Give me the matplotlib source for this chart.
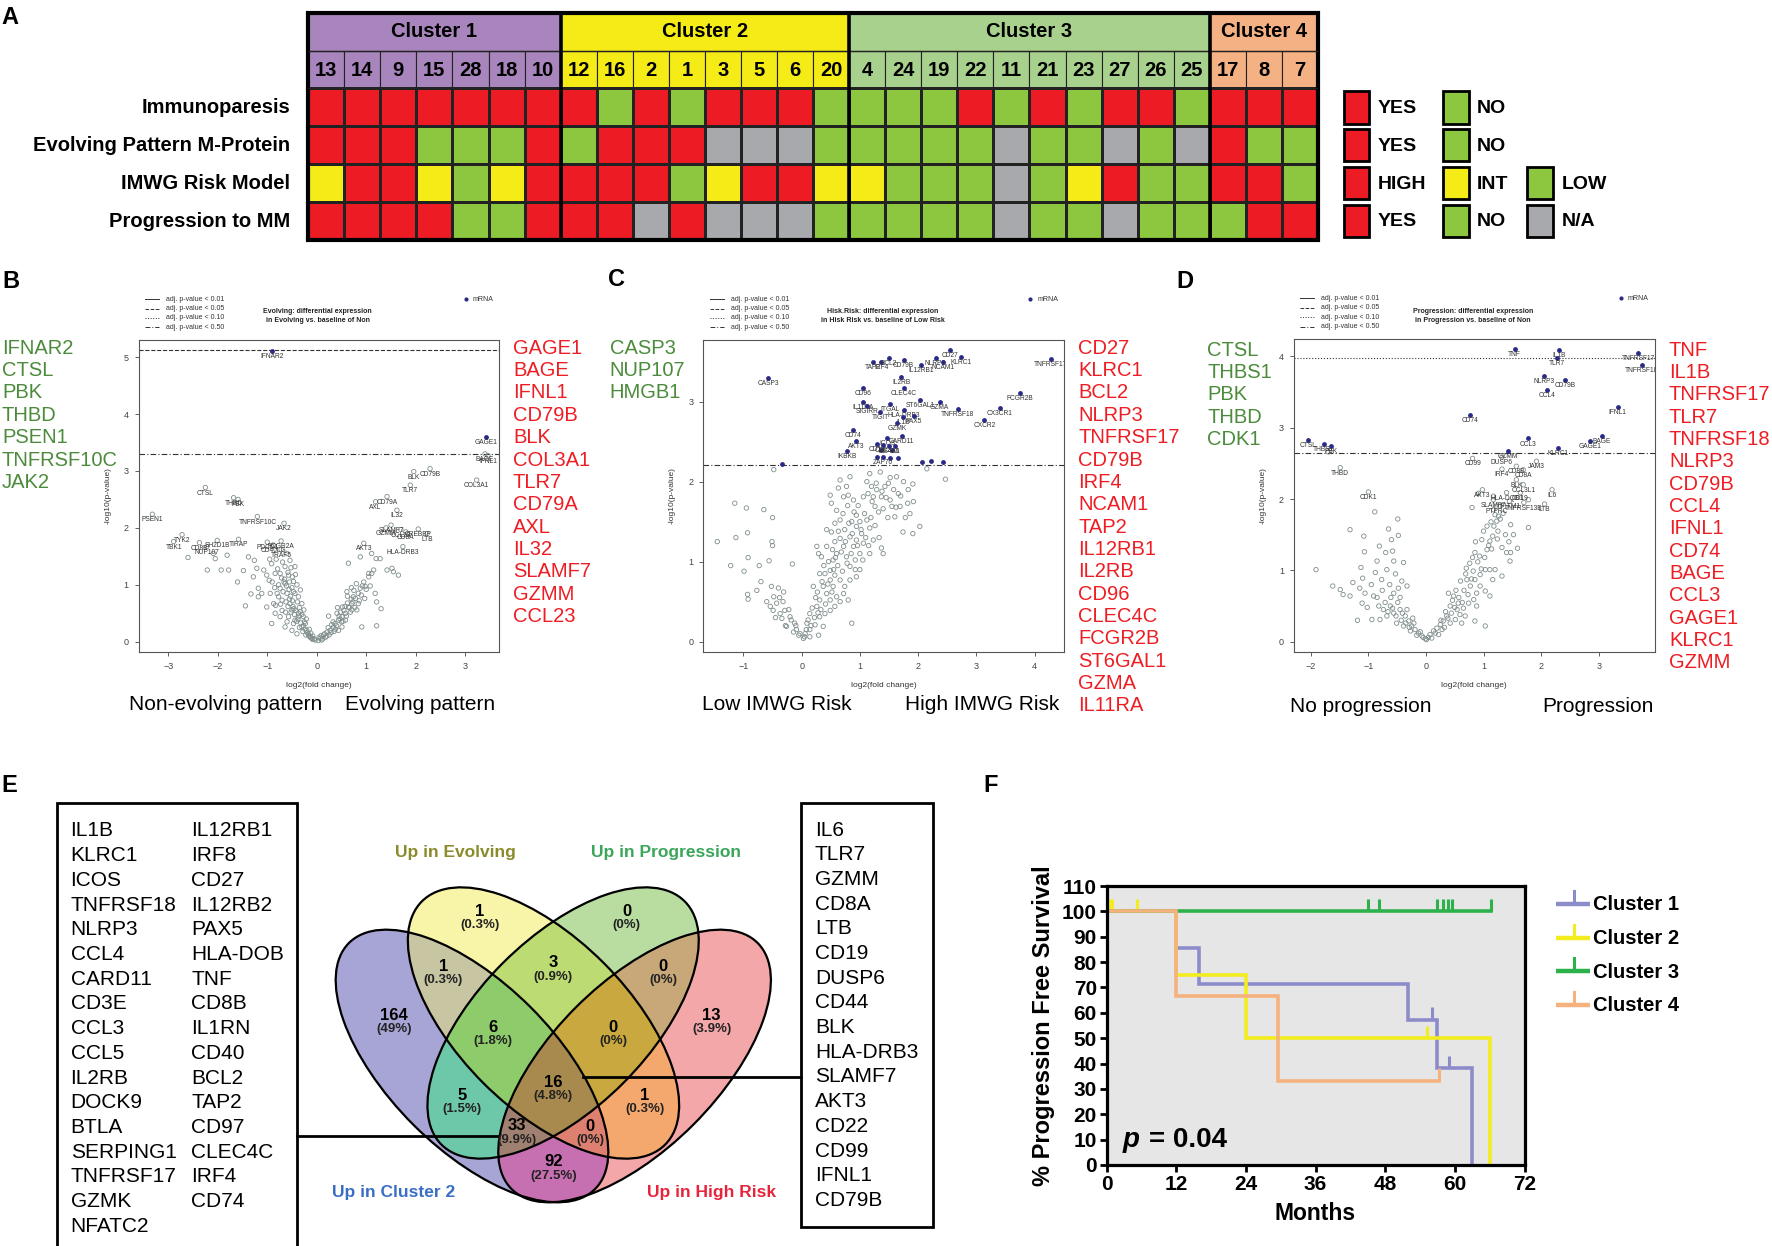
import numpy as np
import matplotlib
matplotlib.use("Agg")
import matplotlib.pyplot as plt
from matplotlib.patches import Rectangle, Ellipse
from matplotlib.colors import ListedColormap

plt.rcParams["font.family"] = ["Liberation Sans", "DejaVu Sans"]

# ---------------- A: clinical features per patient ----------------
cluster_names = ["Cluster 1", "Cluster 2", "Cluster 3", "Cluster 4"]
cluster_sizes = [7, 8, 10, 3]
patient_ids = [13, 14, 9, 15, 28, 18, 10,
               12, 16, 2, 1, 3, 5, 6, 20,
               4, 24, 19, 22, 11, 21, 23, 27, 26, 25,
               17, 8, 7]
feature_names = ["Immunoparesis", "Evolving Pattern M-Protein",
                 "IMWG Risk Model", "Progression to MM"]
# Y yes, N no, H high, I intermediate, L low, X n/a
immunoparesis = "YYYYYYY" + "YNYNYYYN" + "NNNYNYNYYN" + "YYY"
evolving = "YYYNNNY" + "NYYYXXXN" + "NNNNXNNXNX" + "YNN"
imwg_risk = "IHHILIH" + "HHHLIHHI" + "ILLLXLIHLL" + "HHL"
progression = "YYYYNNY" + "YYXYXXXN" + "NNNNXNNXNN" + "NYY"
legend_rows = [[("Y", "YES"), ("N", "NO")],
               [("Y", "YES"), ("N", "NO")],
               [("H", "HIGH"), ("I", "INT"), ("L", "LOW")],
               [("Y", "YES"), ("N", "NO"), ("X", "N/A")]]

# ---------------- B: Evolving vs Non ----------------
b_grey = [(-2.60, 1.48), (-2.21, 1.26), (-1.93, 1.26), (-1.78, 1.26), (-1.81, 1.52), (-2.05, 1.46),
          (-2.09, 1.55), (-1.48, 1.25), (-1.60, 1.05), (-1.38, 1.49), (-1.26, 1.43), (-1.21, 1.29),
          (-1.44, 0.63), (-1.33, 0.84), (-1.18, 0.94), (-1.07, 1.26), (-1.01, 1.17), (-0.96, 1.08),
          (-1.11, 0.85), (-0.94, 0.85), (-0.91, 0.32), (-0.84, 0.50), (-0.83, 0.64), (-0.77, 0.79),
          (-0.74, 0.94), (-0.74, 1.20), (-0.64, 1.32), (-0.57, 1.17), (-0.49, 1.14), (-0.44, 1.32),
          (-0.64, 1.02), (-0.70, 0.73), (-0.60, 0.85), (-0.54, 0.67), (-0.50, 0.56), (-0.44, 0.85),
          (-0.37, 0.79), (-0.33, 0.91), (-0.30, 0.67), (-0.57, 0.44), (-0.64, 0.26), (-0.50, 0.20),
          (-0.44, 0.38), (-0.37, 0.50), (-0.27, 0.44), (-0.23, 0.32), (-0.20, 0.20), (-0.17, 0.14),
          (-0.13, 0.09), (-0.10, 0.06), (-0.03, 0.03), (-0.30, 0.26), (-0.40, 0.14), (-0.47, 0.32),
          (-0.74, 0.44), (-0.87, 0.67), (-1.01, 0.61), (-1.18, 0.79), (-1.28, 1.14), (-0.60, 1.55),
          (-0.54, 1.43), (-0.91, 1.37), (-0.84, 1.20), (-0.77, 1.00), (-0.55, 0.75), (-0.48, 0.62),
          (-0.42, 0.55), (-0.35, 0.60), (-0.30, 0.48), (-0.25, 0.35), (-0.38, 0.40), (-0.45, 0.48),
          (-0.52, 0.52), (-0.58, 0.62), (-0.62, 0.70), (-0.68, 0.88), (-0.50, 0.95), (-0.40, 1.00),
          (-0.35, 0.25), (-0.28, 0.18), (-0.22, 0.12), (-0.15, 0.22), (-0.12, 0.15), (-0.08, 0.10),
          (-0.60, 0.35), (-0.70, 0.55), (-0.65, 1.10), (-0.55, 1.05), (-0.85, 0.95), (-0.90, 1.05),
          (-0.05, 0.05), (-0.08, 0.04), (-0.12, 0.07), (-0.16, 0.10), (-0.19, 0.16), (-0.24, 0.22),
          (-0.27, 0.28), (-0.32, 0.33), (-0.36, 0.45), (-0.41, 0.36), (-0.46, 0.58), (-0.49, 0.72),
          (-0.53, 0.80), (-0.56, 0.92), (-0.61, 0.98), (-0.66, 1.05), (-0.71, 1.12), (-0.79, 1.28),
          (-0.47, 0.88), (-0.39, 0.70), (-0.33, 0.53), (-0.26, 0.56), (-0.21, 0.40), (-0.58, 1.22),
          (-0.69, 1.40), (-0.52, 1.30), (-0.43, 1.18), (-0.82, 1.45), (-0.95, 1.45), (-0.47, 1.06),
          (-0.63, 0.52), (-0.73, 0.66), (-0.80, 0.85),
          (0.07, 0.06), (0.14, 0.12), (0.21, 0.17), (0.27, 0.20), (0.34, 0.26), (0.37, 0.32),
          (0.44, 0.38), (0.51, 0.44), (0.58, 0.50), (0.64, 0.61), (0.71, 0.67), (0.78, 0.76),
          (0.84, 0.85), (0.88, 0.94), (0.98, 0.97), (1.05, 1.14), (1.11, 1.20), (1.15, 1.26),
          (1.18, 0.85), (1.21, 0.70), (1.30, 0.58), (1.21, 0.28), (0.91, 0.26), (0.84, 0.67),
          (0.71, 0.56), (0.61, 0.88), (0.58, 0.38), (0.51, 0.26), (0.44, 0.20), (0.64, 1.38),
          (0.88, 1.49), (1.05, 1.20), (1.11, 1.55), (1.20, 1.46), (1.28, 1.46), (1.42, 1.26),
          (1.52, 1.29), (1.55, 1.23), (1.65, 1.17), (0.24, 0.45), (0.41, 0.50), (0.52, 0.61),
          (0.74, 0.79), (0.81, 0.56), (0.97, 0.76), (0.30, 0.30), (0.45, 0.45), (0.55, 0.55),
          (0.62, 0.68), (0.70, 0.75), (0.50, 0.35), (0.38, 0.22), (0.25, 0.12), (0.18, 0.08),
          (0.10, 0.03), (0.66, 0.60), (0.75, 0.90), (0.80, 1.02), (0.92, 0.98),
          (0.03, 0.02), (0.05, 0.08), (0.09, 0.11), (0.12, 0.05), (0.16, 0.14), (0.20, 0.10),
          (0.23, 0.25), (0.29, 0.16), (0.33, 0.35), (0.35, 0.18), (0.40, 0.28), (0.47, 0.40),
          (0.53, 0.36), (0.57, 0.62), (0.60, 0.45), (0.68, 0.52), (0.73, 0.70), (0.77, 0.60),
          (0.86, 0.72), (0.90, 0.82), (0.95, 1.05), (1.00, 0.92), (1.08, 0.98), (0.70, 0.95),
          (0.62, 0.80), (0.48, 0.52), (0.42, 0.60)]
b_labelled = [("IFNAR2", -0.91, 5.11, 1), ("GAGE1", 3.42, 3.59, 1),
              ("BAGE", 3.40, 3.30, 0), ("IFNL1", 3.46, 3.27, 0), ("COL3A1", 3.23, 2.84, 0),
              ("BLK", 1.96, 2.99, 0), ("CD79B", 2.29, 3.04, 0), ("TLR7", 1.89, 2.75, 0),
              ("CD79A", 1.42, 2.55, 0), ("AXL", 1.19, 2.46, 0), ("IL32", 1.62, 2.31, 0),
              ("SLAMF7", 1.50, 2.05, 0), ("GZMM", 1.40, 2.00, 0), ("CCL23", 1.70, 1.97, 0),
              ("CREBBP", 2.05, 1.98, 0), ("CD8A", 1.80, 1.93, 0), ("LTB", 2.23, 1.90, 0),
              ("AKT3", 0.95, 1.73, 0), ("HLA-DRB3", 1.74, 1.67, 0),
              ("PSEN1", -3.32, 2.24, 0), ("CTSL", -2.25, 2.71, 0), ("THBD", -1.68, 2.53, 0),
              ("PBK", -1.59, 2.50, 0), ("TNFRSF10C", -1.20, 2.20, 0), ("JAK2", -0.66, 2.08, 0),
              ("TYK2", -2.72, 1.88, 0), ("TBK1", -2.89, 1.76, 0), ("CD8B", -2.37, 1.74, 0),
              ("SH2D1B", -2.01, 1.78, 0), ("NUP107", -2.22, 1.67, 0), ("TIRAP", -1.58, 1.80, 0),
              ("PDCD1", -1.00, 1.75, 0), ("FCGR2A", -0.72, 1.77, 0), ("CD40LG", -0.88, 1.70, 0),
              ("TRAF5", -0.72, 1.62, 0)]
b_cutoffs = [(5.13, "--"), (3.30, (0, (5, 2, 1, 2)))]
b_down_genes = ["IFNAR2", "CTSL", "PBK", "THBD", "PSEN1", "TNFRSF10C", "JAK2"]
b_up_genes = ["GAGE1", "BAGE", "IFNL1", "CD79B", "BLK", "COL3A1", "TLR7", "CD79A",
              "AXL", "IL32", "SLAMF7", "GZMM", "CCL23"]

# ---------------- C: High vs Low IMWG risk ----------------
c_grey = [(-0.48, 2.15), (2.15, 2.16), (2.47, 2.03), (1.91, 1.97), (1.92, 1.75), (1.82, 1.73),
          (1.86, 1.60), (2.03, 1.44), (1.91, 1.35), (1.74, 1.37), (-1.15, 1.73), (-0.95, 1.67),
          (-0.65, 1.65), (-0.50, 1.55), (-1.45, 1.25), (-1.13, 1.30), (-0.93, 1.36), (-0.51, 1.25),
          (-0.50, 1.20), (-1.22, 0.95), (-0.99, 0.88), (-0.73, 0.95), (-0.56, 1.01), (-0.16, 0.97),
          (-0.92, 1.05), (-0.93, 0.59), (-0.92, 0.53), (-0.77, 0.64), (-0.48, 0.56), (-0.54, 0.44),
          (-0.43, 0.48), (-0.32, 0.50), (-0.52, 0.69), (-0.40, 0.67), (-0.29, 0.39), (-0.20, 0.31),
          (-0.12, 0.23), (-0.03, 0.10), (0.03, 0.04), (-0.09, 0.15), (-0.18, 0.27), (-0.37, 0.35),
          (-0.49, 0.39), (-0.26, 0.19), (-0.34, 0.29), (-0.05, 0.08), (-0.10, 0.20), (-0.14, 0.12),
          (-0.22, 0.40), (-0.28, 0.20), (-0.31, 0.62), (-0.45, 0.30), (-0.60, 0.50), (-0.70, 0.75),
          (-0.38, 0.55),
          (0.26, 1.19), (0.29, 1.10), (0.31, 0.85), (0.43, 1.40), (0.49, 1.83), (0.51, 1.73),
          (0.60, 1.64), (0.63, 1.92), (0.66, 2.02), (0.72, 1.81), (0.77, 1.94), (0.80, 1.83),
          (0.83, 2.06), (0.89, 1.77), (0.86, 1.50), (0.94, 1.58), (1.00, 1.50), (1.06, 1.81),
          (1.12, 2.00), (1.17, 2.10), (1.20, 1.94), (1.23, 1.81), (1.26, 1.69), (1.29, 1.90),
          (1.35, 2.12), (1.37, 1.81), (1.40, 1.66), (1.43, 1.94), (1.49, 1.98), (1.52, 1.77),
          (1.55, 1.69), (1.60, 1.56), (1.63, 2.06), (1.66, 1.85), (1.69, 1.69), (1.75, 2.00),
          (1.37, 1.17), (1.40, 1.10), (1.17, 1.42), (1.23, 1.27), (1.06, 1.23), (0.94, 1.27),
          (1.00, 1.10), (0.92, 1.02), (0.83, 0.94), (0.77, 1.06), (0.72, 1.19), (0.66, 1.29),
          (0.57, 1.25), (0.60, 1.10), (0.54, 1.02), (0.49, 0.89), (0.57, 0.83), (0.66, 0.77),
          (0.74, 0.69), (0.83, 0.77), (0.94, 0.81), (1.00, 0.90), (0.86, 0.23), (0.37, 0.69),
          (0.43, 0.60), (0.49, 0.52), (0.54, 0.69), (0.60, 0.56), (0.31, 0.52), (0.26, 0.44),
          (0.20, 0.69), (0.14, 0.35), (0.09, 0.23), (0.14, 0.15), (0.23, 0.21), (0.31, 0.31),
          (0.40, 0.35), (0.49, 0.39), (0.57, 0.44), (0.66, 0.50), (0.37, 0.19), (0.29, 0.08),
          (0.14, 0.06), (0.06, 0.10), (0.72, 0.60), (0.80, 0.52), (0.34, 1.06), (0.43, 1.19),
          (0.51, 1.37), (0.57, 1.48), (0.66, 1.52), (0.74, 1.40), (0.83, 1.31), (0.94, 1.44),
          (1.03, 1.35), (1.12, 1.52), (0.89, 1.19), (1.17, 1.10), (0.49, 0.77), (0.40, 0.85),
          (0.05, 0.06), (0.08, 0.15), (0.11, 0.27), (0.16, 0.20), (0.18, 0.42), (0.22, 0.30),
          (0.24, 0.55), (0.27, 0.62), (0.28, 0.36), (0.33, 0.40), (0.35, 0.75), (0.38, 0.95),
          (0.41, 0.47), (0.45, 0.72), (0.46, 1.00), (0.52, 0.62), (0.53, 1.15), (0.55, 0.90),
          (0.58, 1.05), (0.62, 0.95), (0.63, 1.38), (0.68, 1.12), (0.70, 0.88), (0.71, 1.60),
          (0.75, 1.25), (0.78, 0.98), (0.79, 1.70), (0.81, 1.48), (0.85, 1.10), (0.87, 1.35),
          (0.90, 1.62), (0.92, 0.90), (0.96, 1.20), (0.97, 1.70), (1.02, 1.40), (1.05, 1.02),
          (1.08, 1.60), (1.10, 1.30), (1.14, 1.85), (1.15, 1.20), (1.19, 1.55), (1.21, 1.75),
          (1.26, 1.45), (1.28, 1.98), (1.32, 1.62), (1.33, 1.30), (1.38, 1.88), (1.45, 1.80),
          (1.48, 1.55), (1.52, 2.05), (1.58, 1.90), (1.62, 1.68), (1.70, 1.82), (1.78, 1.55),
          (1.83, 1.90)]
c_navy = [(-0.33, 2.22), (1.36, 2.40), (1.55, 2.39), (1.30, 2.31), (1.52, 2.30), (1.65, 2.30),
          (2.06, 2.25), (2.23, 2.26), (2.43, 2.25)]
c_labelled = [("CASP3", -0.57, 3.29, 1), ("TAP2", 1.23, 3.49, 1), ("IRF4", 1.37, 3.50, 1),
              ("BCL2", 1.50, 3.55, 1), ("CD79B", 1.75, 3.52, 1), ("NLRP3", 2.30, 3.54, 1),
              ("NCAM1", 2.42, 3.50, 1), ("IL12RB1", 2.05, 3.46, 1), ("CD27", 2.55, 3.65, 1),
              ("KLRC1", 2.74, 3.56, 1), ("TNFRSF17", 4.28, 3.53, 1), ("IL2RB", 1.71, 3.31, 1),
              ("CD96", 1.06, 3.17, 1), ("CLEC4C", 1.75, 3.17, 1), ("FCGR2B", 3.75, 3.11, 1),
              ("IL11RA", 1.06, 2.99, 1), ("SIGIRR", 1.13, 2.94, 1), ("ITGAL", 1.52, 2.97, 1),
              ("ST6GAL1", 2.04, 3.02, 1), ("GZMA", 2.37, 3.00, 1), ("TNFRSF18", 2.68, 2.91, 1),
              ("CX3CR1", 3.40, 2.92, 1), ("HLA-DRB3", 1.76, 2.90, 1), ("PAX5", 1.93, 2.82, 1),
              ("TIGIT", 1.35, 2.87, 1), ("IL1B", 1.74, 2.81, 1), ("CXCR2", 3.14, 2.77, 1),
              ("GZMK", 1.64, 2.73, 1), ("CD74", 0.89, 2.65, 1), ("AKT3", 0.94, 2.51, 1),
              ("CARD11", 1.72, 2.57, 1), ("ICOS", 1.47, 2.54, 1), ("CD19", 1.30, 2.47, 1),
              ("CD22", 1.40, 2.46, 1), ("MS4A1", 1.50, 2.44, 1), ("IL6", 1.60, 2.45, 1),
              ("IKBKB", 0.78, 2.38, 1), ("ZAP70", 1.39, 2.31, 1)]
c_cutoffs = [(2.205, (0, (5, 2, 1, 2)))]
c_down_genes = ["CASP3", "NUP107", "HMGB1"]
c_up_genes = ["CD27", "KLRC1", "BCL2", "NLRP3", "TNFRSF17", "CD79B", "IRF4", "NCAM1", "TAP2",
              "IL12RB1", "IL2RB", "CD96", "CLEC4C", "FCGR2B", "ST6GAL1", "GZMA", "IL11RA"]

# ---------------- D: Progression vs Non ----------------
d_grey = [(-1.70, 2.66), (0.91, 2.08), (0.80, 1.88), (1.17, 2.04), (1.78, 1.99), (1.29, 1.90),
          (1.17, 1.85), (1.26, 1.76), (1.23, 1.69), (1.47, 1.64), (1.78, 1.60), (1.18, 1.62),
          (1.16, 1.48), (1.11, 1.41), (1.24, 1.44), (1.32, 1.32), (1.40, 1.25), (1.47, 1.25),
          (1.59, 1.31), (1.46, 1.13), (1.14, 1.30), (0.97, 1.43), (1.06, 1.29), (0.85, 1.25),
          (0.81, 1.18), (1.03, 1.01), (1.11, 1.01), (1.20, 1.01), (1.32, 0.92), (1.16, 0.87),
          (0.94, 0.94), (0.85, 0.87), (0.70, 1.03), (0.71, 0.87), (0.77, 0.78), (0.88, 0.68),
          (0.83, 0.59), (0.94, 0.78), (1.03, 0.71), (1.11, 0.64), (0.88, 0.50), (0.74, 0.54),
          (0.65, 0.47), (0.56, 0.54), (0.48, 0.64), (0.42, 0.50), (0.39, 0.68), (0.54, 0.45),
          (0.59, 0.38), (0.68, 0.36), (0.85, 0.29), (1.03, 0.22), (0.36, 0.36), (0.30, 0.29),
          (0.25, 0.24), (0.19, 0.19), (0.13, 0.15), (0.07, 0.10), (0.01, 0.03), (0.28, 0.17),
          (0.42, 0.26), (0.51, 0.31), (0.62, 0.26),
          (0.04, 0.06), (0.10, 0.05), (0.16, 0.12), (0.22, 0.10), (0.26, 0.30), (0.32, 0.20),
          (0.34, 0.42), (0.38, 0.33), (0.44, 0.40), (0.46, 0.58), (0.50, 0.48), (0.52, 0.72),
          (0.57, 0.62), (0.60, 0.85), (0.63, 0.55), (0.66, 0.72), (0.69, 0.95), (0.73, 0.66),
          (0.76, 1.10), (0.79, 0.88), (0.82, 0.99), (0.86, 1.40), (0.90, 1.12), (0.93, 1.20),
          (0.96, 1.02), (1.00, 1.55), (1.02, 1.18), (1.06, 1.62), (1.09, 1.35), (1.13, 1.68),
          (1.20, 1.78), (1.25, 1.55), (1.29, 1.72), (1.34, 1.80), (1.38, 1.50), (1.44, 1.40),
          (1.52, 1.50),
          (-1.91, 1.01), (-1.62, 0.78), (-1.49, 0.73), (-1.44, 0.66), (-1.32, 0.64), (-1.19, 0.30),
          (-1.27, 0.83), (-1.32, 1.57), (-1.13, 1.04), (-1.10, 0.89), (-1.07, 1.26), (-1.08, 1.48),
          (-0.81, 1.34), (-0.89, 1.82), (-0.65, 1.58), (-0.60, 1.43), (-0.49, 1.72), (-0.48, 1.49),
          (-0.58, 1.27), (-0.56, 1.13), (-0.85, 1.13), (-0.88, 0.97), (-0.77, 0.87), (-0.68, 1.01),
          (-0.39, 1.11), (-0.33, 0.78), (-0.48, 0.75), (-0.56, 0.68), (-0.45, 0.62), (-0.91, 0.64),
          (-1.06, 0.68), (-1.11, 0.54), (-0.94, 0.31), (-0.82, 0.50), (-0.74, 0.45), (-0.62, 0.50),
          (-0.56, 0.40), (-0.45, 0.45), (-0.36, 0.36), (-0.30, 0.29), (-0.25, 0.22), (-0.19, 0.17),
          (-0.13, 0.12), (-0.07, 0.08), (-0.01, 0.04), (-0.68, 0.36), (-0.80, 0.31), (-0.51, 0.26),
          (-0.39, 0.22), (-0.27, 0.15), (-0.05, 0.06), (-0.10, 0.14), (-0.16, 0.09), (-0.21, 0.26),
          (-0.23, 0.33), (-0.29, 0.20), (-0.33, 0.45), (-0.35, 0.26), (-0.41, 0.40), (-0.43, 0.30),
          (-0.49, 0.55), (-0.52, 0.36), (-0.58, 0.47), (-0.61, 0.62), (-0.66, 0.42), (-0.71, 0.55),
          (-0.76, 0.72), (-0.85, 0.62), (-0.95, 0.80), (-1.02, 0.48), (-1.15, 0.75), (-0.70, 1.25),
          (-0.53, 0.95), (-0.42, 0.85), (-0.63, 0.80)]
d_navy = []
d_labelled = [("TNF", 1.54, 4.10, 1), ("IL1B", 2.31, 4.09, 1), ("TLR7", 2.28, 3.98, 1),
              ("TNFRSF17", 3.69, 4.05, 1), ("TNFRSF18", 3.75, 3.88, 1), ("NLRP3", 2.05, 3.73, 1),
              ("CD79B", 2.42, 3.67, 1), ("CCL4", 2.10, 3.53, 1), ("IFNL1", 3.33, 3.29, 1),
              ("CD74", 0.77, 3.18, 1), ("BAGE", 3.06, 2.89, 1), ("GAGE1", 2.85, 2.81, 1),
              ("CCL3", 1.77, 2.85, 1), ("KLRC1", 2.30, 2.71, 1), ("GZMM", 1.42, 2.68, 1),
              ("CTSL", -2.05, 2.83, 1), ("THBS1", -1.78, 2.77, 1), ("PBK", -1.65, 2.74, 1),
              ("THBD", -1.49, 2.44, 0), ("CDK1", -1.00, 2.10, 0), ("CD99", 0.81, 2.57, 0),
              ("DUSP6", 1.32, 2.59, 0), ("IRF4", 1.32, 2.42, 0), ("CD8B", 1.57, 2.46, 0),
              ("JAM3", 1.92, 2.53, 0), ("CD8A", 1.69, 2.41, 0), ("BLK", 1.57, 2.27, 0),
              ("CCL3L1", 1.69, 2.20, 0), ("IL6", 2.19, 2.13, 0), ("AKT3", 0.98, 2.13, 0),
              ("HLA-DQB1", 1.40, 2.09, 0), ("CD19", 1.64, 2.09, 0), ("SLAMF7", 1.17, 1.99, 0),
              ("PTPRC", 1.22, 1.90, 0), ("IFITM1", 1.45, 1.97, 0), ("TNFRSF13B", 1.70, 1.95, 0),
              ("LTB", 2.06, 1.93, 0)]
d_cutoffs = [(3.977, ":"), (2.644, (0, (5, 2, 1, 2)))]
d_down_genes = ["CTSL", "THBS1", "PBK", "THBD", "CDK1"]
d_up_genes = ["TNF", "IL1B", "TNFRSF17", "TLR7", "TNFRSF18", "NLRP3", "CD79B", "CCL4",
              "IFNL1", "CD74", "BAGE", "CCL3", "GAGE1", "KLRC1", "GZMM"]

# ---------------- E: Venn of up-regulated genes ----------------
venn_counts = [164, 1, 0, 13, 1, 3, 0, 6, 0, 5, 16, 1, 33, 0, 92]
venn_pcts = ["49%", "0.3%", "0%", "3.9%", "0.3%", "0.9%", "0%", "1.8%", "0%", "1.5%",
             "4.8%", "0.3%", "9.9%", "0%", "27.5%"]
venn_sets = ["Up in Cluster 2", "Up in Evolving", "Up in Progression", "Up in High Risk"]
e_left_col1 = ["IL1B", "KLRC1", "ICOS", "TNFRSF18", "NLRP3", "CCL4", "CARD11", "CD3E", "CCL3",
               "CCL5", "IL2RB", "DOCK9", "BTLA", "SERPING1", "TNFRSF17", "GZMK", "NFATC2"]
e_left_col2 = ["IL12RB1", "IRF8", "CD27", "IL12RB2", "PAX5", "HLA-DOB", "TNF", "CD8B", "IL1RN",
               "CD40", "BCL2", "TAP2", "CD97", "CLEC4C", "IRF4", "CD74"]
e_right = ["IL6", "TLR7", "GZMM", "CD8A", "LTB", "CD19", "DUSP6", "CD44", "BLK", "HLA-DRB3",
           "SLAMF7", "AKT3", "CD22", "CD99", "IFNL1", "CD79B"]

# ---------------- F: Kaplan-Meier PFS ----------------
km_names = ["Cluster 1", "Cluster 2", "Cluster 3", "Cluster 4"]
km_times = [[0, 12, 16, 52, 57, 63], [0, 12, 24, 66], [0, 66.2], [0, 12, 29.5, 57.3]]
km_surv = [[100, 85.7, 71.4, 57.1, 38.1, 0], [100, 75, 50, 0], [100, 100], [100, 66.7, 33.3, 33.3]]
km_cens_t = [[56, 59], [0.5, 1.0, 5.3, 55.2], [45, 47, 57, 57.9, 58.8, 59.5, 66.2], [57.3]]
km_cens_s = [[57.1, 38.1], [100, 100, 100, 50], [100] * 7, [33.3]]

# ---------------- colours ----------------
RED, GREEN, YELLOW, GREY = "#ED1C24", "#8DC63F", "#F5EB16", "#A7A9AC"
cluster_cols = ["#A985BD", "#F5EB16", "#A9D18E", "#F4B183"]
code_col = {"Y": RED, "H": RED, "I": YELLOW, "N": GREEN, "L": GREEN, "X": GREY}
code_idx = {"Y": 0, "H": 0, "I": 1, "N": 2, "L": 2, "X": 3}
NAVY, CIRC = "#2A2A86", "#7F8D8C"
GTXT, RTXT = "#4B8B3B", "#EE1D23"
km_cols = ["#8C8CCB", "#F3EC1E", "#2DB14B", "#F6B27E"]
# Venn region colours keyed by membership (Cluster 2, Evolving, Progression, High Risk)
venn_region_cols = {(1, 0, 0, 0): (167, 165, 213), (0, 1, 0, 0): (248, 244, 168),
                    (0, 0, 1, 0): (185, 221, 160), (0, 0, 0, 1): (243, 167, 169),
                    (1, 1, 0, 0): (200, 197, 163), (0, 1, 1, 0): (188, 219, 114),
                    (0, 0, 1, 1): (200, 168, 120), (1, 0, 1, 0): (109, 200, 169),
                    (0, 1, 0, 1): (245, 168, 110), (1, 0, 0, 1): (198, 112, 177),
                    (1, 1, 1, 0): (142, 203, 107), (0, 1, 1, 1): (201, 168, 63),
                    (1, 0, 1, 1): (160, 128, 112), (1, 1, 0, 1): (222, 128, 112),
                    (1, 1, 1, 1): (168, 138, 78)}

W, H = 1772, 1246
fig = plt.figure(figsize=(W / 100, H / 100), dpi=100)


def px_axes(l, t, r, b, **kw):
    return fig.add_axes([l / W, 1 - b / H, (r - l) / W, (b - t) / H], **kw)


# ---------------- A ----------------
hm = px_axes(308.2, 12.7, 1318, 240)
hm.set_xlim(0, 28)
hm.set_ylim(6, 0)
hm.axis("off")
start = 0
for name, size, col in zip(cluster_names, cluster_sizes, cluster_cols):
    hm.add_patch(Rectangle((start, 0), size, 1, facecolor=col, edgecolor="none"))
    hm.text(start + size / 2, 0.5, name, ha="center", va="center", fontsize=14.5, fontweight="bold")
    for j in range(size):
        hm.add_patch(Rectangle((start + j, 1), 1, 1, facecolor=col, edgecolor="#222222", lw=0.8))
        hm.text(start + j + 0.5, 1.52, str(patient_ids[start + j]), ha="center", va="center",
                fontsize=14.5, fontweight="bold")
    start += size
rows = [immunoparesis, evolving, imwg_risk, progression]
grid = np.array([[code_idx[c] for c in r] for r in rows])
hm.pcolormesh(np.arange(29), np.arange(2, 7), grid, cmap=ListedColormap([RED, YELLOW, GREEN, GREY]),
              vmin=-0.5, vmax=3.5, edgecolors="#222222", linewidth=0.8)
hm.hlines([1, 2], 0, 28, color="#222222", lw=1.0)
hm.vlines(np.cumsum(cluster_sizes)[:-1], 0, 6, color="black", lw=2.6)
hm.add_patch(Rectangle((0, 0), 28, 6, fill=False, lw=3, edgecolor="black", clip_on=False))
for i, name in enumerate(feature_names):
    hm.text(-0.5, 2.5 + i, name, ha="right", va="center", fontsize=14.5, fontweight="bold")


# ---------------- B, C, D ----------------
def volcano(box, xlim, ylim, xticks, yticks, grey, navy, labelled, cutoffs, title):
    ax = px_axes(*box)
    gx, gy = np.array(grey).T
    ax.scatter(gx, gy, s=10, facecolors="none", edgecolors=CIRC, linewidths=0.6, zorder=2)
    if navy:
        nx, ny = np.array(navy).T
        ax.scatter(nx, ny, s=6, color=NAVY, zorder=3)
    for name, x, y, filled in labelled:
        if filled:
            ax.scatter([x], [y], s=6, color=NAVY, zorder=3)
        else:
            ax.scatter([x], [y], s=10, facecolors="none", edgecolors=CIRC, linewidths=0.6, zorder=2)
        ax.annotate(name, (x, y), xytext=(0, -1.5), textcoords="offset points", ha="center",
                    va="top", fontsize=4.8, color="#333333", clip_on=True)
    for y, ls in cutoffs:
        ax.axhline(y, color="#333333", lw=0.8, ls=ls, zorder=1)
    ax.set_xlim(xlim)
    ax.set_ylim(ylim)
    ax.set_xticks(xticks)
    ax.set_yticks(yticks)
    ax.tick_params(labelsize=6.5, length=3, width=0.6, colors="#444444", pad=4)
    for s in ax.spines.values():
        s.set_color("#555555")
        s.set_linewidth(0.8)
    ax.set_xlabel("log2(fold change)", fontsize=6, color="#333333", labelpad=8)
    ax.set_ylabel("-log10(p-value)", fontsize=6, color="#333333", labelpad=9)
    styles = ["-", "--", ":", (0, (5, 2, 1, 2))]
    labs = ["adj. p-value < 0.01", "adj. p-value < 0.05", "adj. p-value < 0.10", "adj. p-value < 0.50"]
    for i, (ls, lab) in enumerate(zip(styles, labs)):
        yy = 1.131 - i * 0.0301
        ax.plot([0.018, 0.057], [yy, yy], transform=ax.transAxes, ls=ls, color="#333333",
                lw=0.7, clip_on=False)
        ax.text(0.076, yy, lab, transform=ax.transAxes, fontsize=5, va="center", color="#333333")
    ax.plot([0.9066], [1.131], transform=ax.transAxes, marker="o", ms=2, color=NAVY, clip_on=False)
    ax.text(0.926, 1.131, "mRNA", transform=ax.transAxes, fontsize=5, va="center", color="#333333")
    ax.text(0.497, 1.076, title, transform=ax.transAxes, ha="center", va="center", fontsize=5,
            fontweight="bold", linespacing=1.4, color="#222222")
    return ax


volcano((138.5, 340, 499.4, 652), (-3.60, 3.69), (-0.18, 5.30), range(-3, 4), range(0, 6),
        b_grey, [], b_labelled, b_cutoffs,
        "Evolving: differential expression\nin Evolving vs. baseline of Non")
volcano((703.3, 340, 1064.2, 652), (-1.69, 4.51), (-0.13, 3.77), range(-1, 5), range(0, 4),
        c_grey, c_navy, c_labelled, c_cutoffs,
        "Hisk.Risk: differential expression\nin Hisk Risk vs. baseline of Low Risk")
volcano((1293.6, 339.3, 1654.5, 652), (-2.30, 3.97), (-0.145, 4.24), range(-2, 4), range(0, 5),
        d_grey, d_navy, d_labelled, d_cutoffs,
        "Progression: differential expression\nin Progression vs. baseline of Non")

# ---------------- F: KM ----------------
km = px_axes(1106.6, 886, 1524.5, 1165)
km.set_facecolor("#E6E6E6")
for t, s, ct, cs, col in zip(km_times, km_surv, km_cens_t, km_cens_s, km_cols):
    km.step(t, s, where="post", color=col, lw=2.6, solid_joinstyle="miter")
    km.vlines(ct, cs, np.array(cs) + 5, color=col, lw=2.2)
km.set_xlim(0, 72)
km.set_ylim(0, 110)
km.set_xticks(range(0, 73, 12))
km.set_yticks(range(0, 111, 10))
for s in km.spines.values():
    s.set_linewidth(2.3)
km.tick_params(width=2, length=5, labelsize=15, pad=2)
for lab in km.get_xticklabels() + km.get_yticklabels():
    lab.set_fontweight("bold")
km.set_xlabel("Months", fontsize=16.5, fontweight="bold", labelpad=6)
km.set_ylabel("% Progression Free Survival", fontsize=17, fontweight="bold", labelpad=5)

# ---------------- overlay: free text, Venn, legends, boxes ----------------
ov = fig.add_axes([0, 0, 1, 1], zorder=10)

# E: Venn diagram drawn in pixel space (Cluster 2, Evolving, Progression, High Risk)
venn_ellipses = [(472.0, 1066.0, 174, 83, 45), (543.5, 1023.0, 172, 85, 45),
                 (563.1, 1023.0, 172, 85, -45), (634.6, 1066.0, 174, 83, -45)]
gx0, gx1, gy0, gy1 = 320, 790, 870, 1215
xx, yy = np.meshgrid(np.arange(gx0, gx1) + 0.5, np.arange(gy0, gy1) + 0.5)
member = []
for cx, cy, a, b, ang in venn_ellipses:
    t = np.deg2rad(ang)
    dx, dy = xx - cx, yy - cy
    u = dx * np.cos(t) + dy * np.sin(t)
    v = -dx * np.sin(t) + dy * np.cos(t)
    member.append((u / a) ** 2 + (v / b) ** 2 <= 1)
img = np.zeros(xx.shape + (4,))
for key, rgb in venn_region_cols.items():
    mask = np.ones(xx.shape, bool)
    for m, k in zip(member, key):
        mask &= m if k else ~m
    img[mask, :3] = np.array(rgb) / 255
    img[mask, 3] = 1
ov.imshow(img, extent=(gx0, gx1, gy1, gy0), interpolation="nearest", aspect="auto", zorder=0)
for cx, cy, a, b, ang in venn_ellipses:
    ov.add_patch(Ellipse((cx, cy), 2 * a, 2 * b, angle=ang, fill=False, edgecolor="black", lw=1.6))
venn_pos = [(394, 1022), (480, 918.3), (626.7, 918.3), (711.7, 1022), (443.3, 973.3),
            (553.3, 969.7), (663.3, 973.3), (493.3, 1034.2), (613.3, 1034.2), (461.7, 1102),
            (553.3, 1089.2), (645, 1102), (516.7, 1132.7), (590, 1133.3), (553.3, 1168.8)]
for (x, y), n, p in zip(venn_pos, venn_counts, venn_pcts):
    ov.text(x, y - 7, str(n), ha="center", va="center", fontsize=12, fontweight="bold")
    ov.text(x, y + 7, "(" + p + ")", ha="center", va="center", fontsize=9.5, fontweight="bold",
            color="#222222")

ov.set_xlim(0, W)
ov.set_ylim(H, 0)
ov.axis("off")

for lab, x, y in [("A", 10, 17), ("B", 11, 282), ("C", 617, 280), ("D", 1185, 282),
                  ("E", 9, 785), ("F", 991, 785)]:
    ov.text(x, y, lab, ha="center", va="center", fontsize=17, fontweight="bold")

# A legend
sq_x = [1343.7, 1443, 1527.4]
for i, items in enumerate(legend_rows):
    yc = 88.3 + 37.9 * (i + 0.5)
    for j, (code, lab) in enumerate(items):
        ov.add_patch(Rectangle((sq_x[j], yc - 16.3), 25.6, 32.6, facecolor=code_col[code],
                               edgecolor="black", lw=2))
        ov.text(sq_x[j] + 34, yc + 1, lab, ha="left", va="center", fontsize=14, fontweight="bold")

# volcano gene lists and group labels
for genes, x, y0, col in [(b_down_genes, 2, 348.3, GTXT), (b_up_genes, 513, 348.3, RTXT),
                          (c_down_genes, 609.6, 348.3, GTXT), (c_up_genes, 1078.4, 348.3, RTXT),
                          (d_down_genes, 1207.2, 350, GTXT), (d_up_genes, 1669, 350, RTXT)]:
    for i, g in enumerate(genes):
        ov.text(x, y0 + 22.35 * i, g, ha="left", va="center", fontsize=14.5, color=col)
for lab, x, y in [("Non-evolving pattern", 226, 705), ("Evolving pattern", 420.5, 705),
                  ("Low IMWG Risk", 776.4, 705), ("High IMWG Risk", 981.7, 705),
                  ("No progression", 1361, 706.7), ("Progression", 1597.5, 706.7)]:
    ov.text(x, y, lab, ha="center", va="center", fontsize=15)

# Venn set names
for lab, x, y, col in [(venn_sets[1], 455, 852, "#8B8A2C"), (venn_sets[2], 666, 852, "#3AA65A"),
                       (venn_sets[0], 394, 1193, "#3A6EC6"), (venn_sets[3], 712, 1193, "#E8243C")]:
    ov.text(x, y, lab, ha="center", va="center", fontsize=12.5, fontweight="bold", color=col)

# gene boxes
ov.add_patch(Rectangle((57.4, 802.7), 239.3, 444, fill=False, lw=2, edgecolor="black"))
ov.add_patch(Rectangle((800.8, 802.7), 132.6, 424, fill=False, lw=2, edgecolor="black"))
for i, g in enumerate(e_left_col1):
    ov.text(70.6, 831 + 24.7 * i, g, ha="left", va="center", fontsize=15)
for i, g in enumerate(e_left_col2):
    ov.text(191.1, 831 + 24.7 * i, g, ha="left", va="center", fontsize=15)
for i, g in enumerate(e_right):
    ov.text(815, 830 + 24.7 * i, g, ha="left", va="center", fontsize=15)
ov.plot([296.7, 496.7], [1135.7, 1135.7], color="black", lw=2)
ov.plot([583.3, 800.8], [1077.3, 1077.3], color="black", lw=2)

# KM legend and p-value
for i, (name, col) in enumerate(zip(km_names, km_cols)):
    yc = 905 + 33.6 * i
    ov.plot([1555.6, 1590], [yc - 1, yc - 1], color=col, lw=3.2, solid_capstyle="butt")
    ov.plot([1573.8, 1573.8], [yc - 14, yc - 1], color=col, lw=2.2)
    ov.text(1593, yc, name, ha="left", va="center", fontsize=14.5, fontweight="bold")
ov.text(1123, 1140, "p", ha="left", va="center", fontsize=20, fontweight="bold", fontstyle="italic")
ov.text(1149, 1140, "= 0.04", ha="left", va="center", fontsize=20, fontweight="bold")

fig.savefig("out.png", dpi=100)
